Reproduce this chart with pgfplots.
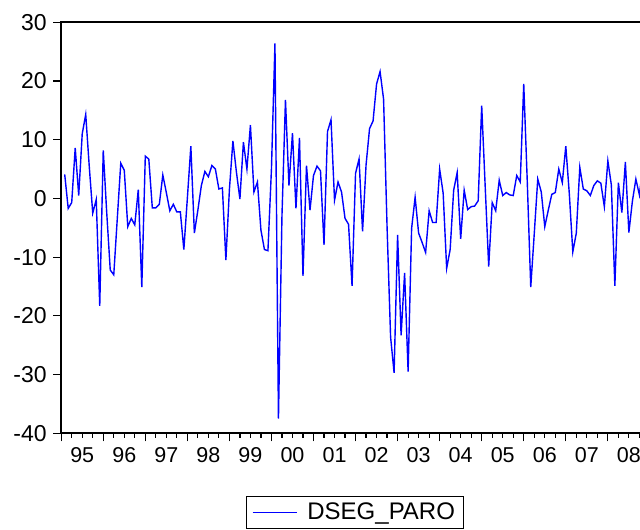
\documentclass[border=0pt]{standalone}
\usepackage{fontspec}
\setmainfont{Liberation Sans}
\usepackage{pgfplots}
\pgfplotsset{compat=1.18}
\usepackage{pgfplotstable}

% Monthly first difference of SEG_PARO, k = months after 1995M01
\pgfplotstableread{
k v
1 4.1
2 -1.7
3 -0.7
4 8.6
5 0.5
6 11.0
7 14.3
8 5.5
9 -2.5
10 -0.2
11 -18.3
12 8.2
13 -2.5
14 -12.2
15 -13.0
16 -3.5
17 6.0
18 4.8
19 -4.8
20 -3.4
21 -4.5
22 1.5
23 -15.1
24 7.2
25 6.7
26 -1.6
27 -1.6
28 -1.0
29 4.0
30 1.0
31 -2.1
32 -1.0
33 -2.3
34 -2.3
35 -8.7
36 0.0
37 8.9
38 -5.9
39 -2.0
40 2.2
41 4.6
42 3.7
43 5.6
44 5.0
45 1.6
46 1.8
47 -10.5
48 1.5
49 9.8
50 4.5
51 -0.1
52 9.6
53 5.0
54 12.5
55 1.1
56 2.8
57 -5.4
58 -8.7
59 -8.9
60 5.0
61 26.4
62 -37.5
63 -3.0
64 16.8
65 2.2
66 11.1
67 -1.7
68 10.3
69 -13.2
70 5.6
71 -2.0
72 3.9
73 5.5
74 4.7
75 -7.9
76 11.4
77 13.4
78 -0.3
79 2.8
80 1.1
81 -3.4
82 -4.4
83 -14.9
84 4.3
85 6.7
86 -5.6
87 5.7
88 11.9
89 13.2
90 19.5
91 21.6
92 16.9
93 -5.0
94 -23.6
95 -29.7
96 -6.2
97 -23.3
98 -12.7
99 -29.5
100 -5.1
101 0.2
102 -5.9
103 -7.5
104 -9.2
105 -2.1
106 -4.1
107 -4.1
108 5.0
109 0.9
110 -11.9
111 -8.7
112 1.4
113 4.4
114 -6.9
115 1.4
116 -1.9
117 -1.4
118 -1.3
119 -0.4
120 15.8
121 2.0
122 -11.6
123 -0.7
124 -2.1
125 3.1
126 0.5
127 1.0
128 0.6
129 0.5
130 3.9
131 2.8
132 19.5
133 3.0
134 -15.1
135 -6.0
136 3.3
137 1.1
138 -4.8
139 -2.0
140 0.7
141 1.0
142 5.0
143 2.7
144 8.9
145 0.8
146 -9.1
147 -5.9
148 5.3
149 1.6
150 1.3
151 0.5
152 2.2
153 3.0
154 2.6
155 -1.4
156 6.4
157 2.3
158 -14.9
159 2.7
160 -2.4
161 6.2
162 -5.8
163 -0.5
164 3.3
165 0.6
166 5.5
}\dsegparo

\begin{document}
\begin{tikzpicture}[x=1pt,y=1pt]
\useasboundingbox (0,0) rectangle (640,530);
\clip (0,0) rectangle (640,530);
\begin{axis}[
  at={(61.2pt,96.7pt)}, anchor=south west,
  scale only axis, width=588.7pt, height=411pt,
  xmin=1995, xmax=2009, ymin=-40, ymax=30,
  xtick={1995,1996,1997,1998,1999,2000,2001,2002,2003,2004,2005,2006,2007,2008,2009},
  xticklabels={},
  minor x tick num=3,
  extra x ticks={1995.5,1996.5,1997.5,1998.5,1999.5,2000.5,2001.5,2002.5,2003.5,2004.5,2005.5,2006.5,2007.5,2008.5},
  extra x tick labels={95,96,97,98,99,00,01,02,03,04,05,06,07,08},
  extra x tick style={major tick length=0pt,
    xticklabel style={yshift=-11pt, font=\fontsize{21.5}{26}\selectfont}},
  ytick={-40,-30,-20,-10,0,10,20,30},
  yticklabel style={xshift=-3pt},
  xtick pos=bottom, ytick pos=left,
  tick align=outside,
  major tick length=8pt, minor tick length=4.5pt,
  tick style={black, line width=1.2pt},
  axis line style={line width=1.8pt},
  /pgf/number format/assume math mode=true,
  ticklabel style={font=\fontsize{23}{27}\selectfont},
  legend style={at={(0.4982,-0.152)}, anchor=north, draw=black, line width=0.8pt,
    font=\fontsize{24}{28}\selectfont, inner xsep=6pt, inner ysep=5pt,
    column sep=8pt},
  legend cell align=left,
  legend image code/.code={\draw[#1] (0pt,0pt) -- (44pt,0pt);},
]
\addplot[blue, line width=1.4pt, mark=none] table[x expr=1995+\thisrow{k}/12, y=v] {\dsegparo};
\addlegendentry{DSEG\_PARO}
\end{axis}
\end{tikzpicture}
\end{document}
